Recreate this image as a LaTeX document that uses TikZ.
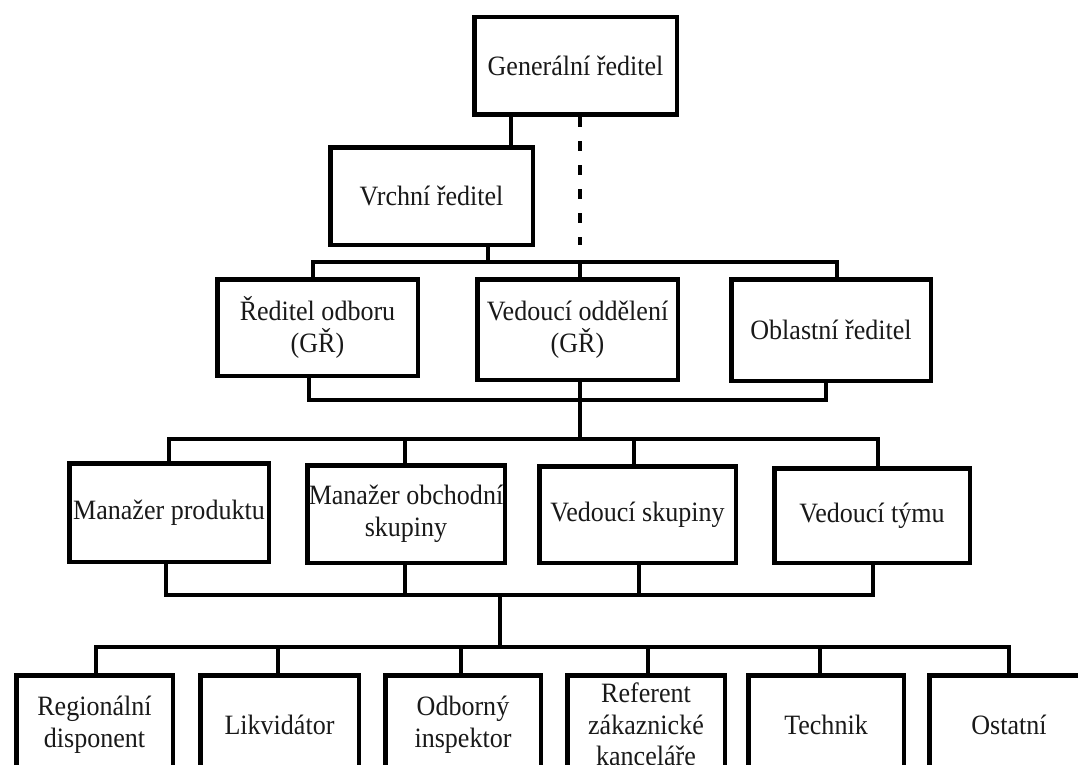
\documentclass[tikz,border=0pt]{standalone}
\usepackage{fontspec}
\setmainfont{Liberation Serif}[FakeStretch=0.93]
\usetikzlibrary{calc}
\begin{document}
\begin{tikzpicture}[x=1pt,y=-1pt,
  orgbox/.style={draw=black, line width=4.5pt, fill=white, inner sep=0pt,
    align=center, text=black!90,
    font=\fontsize{28}{31.5}\selectfont},
  conn/.style={draw=black, line width=4.2pt, line join=miter},
  dotconn/.style={draw=black, line width=3.4pt, dash pattern=on 10pt off 14pt}]
\useasboundingbox (0,0) rectangle (1078,765);
\clip (0,0) rectangle (1078,765);
\fill[white] (0,0) rectangle (1078,765);

% --- top management ---
\node[orgbox, minimum width=202.5, minimum height=97.5] (gen) at (575.5,66) {Generální ředitel};
\node[orgbox, minimum width=202.5, minimum height=97.5] (vrch) at (431.5,196) {Vrchní ředitel};

% --- directors ---
\node[orgbox, minimum width=200.5, minimum height=96.5] (red) at (317.5,327.5) {Ředitel odboru\\(GŘ)};
\node[orgbox, minimum width=200.5, minimum height=100.5] (ved) at (577.5,329.5) {Vedoucí oddělení\\(GŘ)};
\node[orgbox, minimum width=199.5, minimum height=101.5] (obl) at (831,330) {Oblastní ředitel};

% --- middle management ---
\node[orgbox, minimum width=199.5, minimum height=98.5] (mp) at (169,512.5) {Manažer produktu};
\node[orgbox, minimum width=197.5, minimum height=97.5] (mo) at (406,514) {Manažer obchodní\\skupiny};
\node[orgbox, minimum width=196.5, minimum height=96.5] (vs) at (637.5,514.5) {Vedoucí skupiny};
\node[orgbox, minimum width=195.5, minimum height=94.5] (vt) at (872,515.5) {Vedoucí týmu};

% --- staff ---
\node[orgbox, minimum width=156.5, minimum height=98.5] (reg) at (94.5,724.5) {Regionální\\disponent};
\node[orgbox, minimum width=158.5, minimum height=98.5] (lik) at (279.5,724.5) {Likvidátor};
\node[orgbox, minimum width=155.5, minimum height=98.5] (odb) at (463,724.5) {Odborný\\inspektor};
\node[orgbox, minimum width=157.5, minimum height=98.5] (ref) at (646,724.5) {Referent\\zákaznické\\kanceláře};
\node[orgbox, minimum width=155.5, minimum height=98.5] (tec) at (826,724.5) {Technik};
\node[orgbox, minimum width=159.5, minimum height=98.5] (ost) at (1009,724.5) {Ostatní};

% --- junction points of the connector buses ---
\coordinate (g1) at (511,0);
\coordinate (d1) at (580,245);
\coordinate (j1) at (488,262);
\coordinate (t1) at (313,262);
\coordinate (t2) at (837,262);
\coordinate (t3) at (580,262);
\coordinate (u1) at (309,400);
\coordinate (u2) at (826,400);
\coordinate (v0) at (580,439);
\coordinate (v1) at (169,439);
\coordinate (v2) at (878,439);
\coordinate (v3) at (405,439);
\coordinate (v4) at (634,439);
\coordinate (w0) at (500,595);
\coordinate (w1) at (166,595);
\coordinate (w2) at (873,595);
\coordinate (w3) at (405,595);
\coordinate (w4) at (639,595);
\coordinate (z0) at (500,647);
\coordinate (z1) at (96,647);
\coordinate (z2) at (278,647);
\coordinate (z3) at (461,647);
\coordinate (z4) at (648,647);
\coordinate (z5) at (820,647);
\coordinate (z6) at (1009,647);

% --- connectors ---
\draw[conn] (gen.south -| g1) -- (vrch.north -| g1);
\draw[dotconn] (gen.south -| d1) -- (d1);

\draw[conn] (vrch.south -| j1) -- (j1);
\draw[conn] (red.north -| t1) -- (t1) -- (t2) -- (obl.north -| t2);
\draw[conn] (t3) -- (ved.north -| t3);

\draw[conn] (red.south -| u1) -- (u1) -- (u2) -- (obl.south -| u2);
\draw[conn] (ved.south -| v0) -- (v0);
\draw[conn] (mp.north -| v1) -- (v1) -- (v2) -- (vt.north -| v2);
\draw[conn] (v3) -- (mo.north -| v3);
\draw[conn] (v4) -- (vs.north -| v4);

\draw[conn] (mp.south -| w1) -- (w1) -- (w2) -- (vt.south -| w2);
\draw[conn] (mo.south -| w3) -- (w3);
\draw[conn] (vs.south -| w4) -- (w4);
\draw[conn] (w0) -- (z0);

\draw[conn] (reg.north -| z1) -- (z1) -- (z6) -- (ost.north -| z6);
\draw[conn] (z2) -- (lik.north -| z2);
\draw[conn] (z3) -- (odb.north -| z3);
\draw[conn] (z4) -- (ref.north -| z4);
\draw[conn] (z5) -- (tec.north -| z5);
\end{tikzpicture}
\end{document}
